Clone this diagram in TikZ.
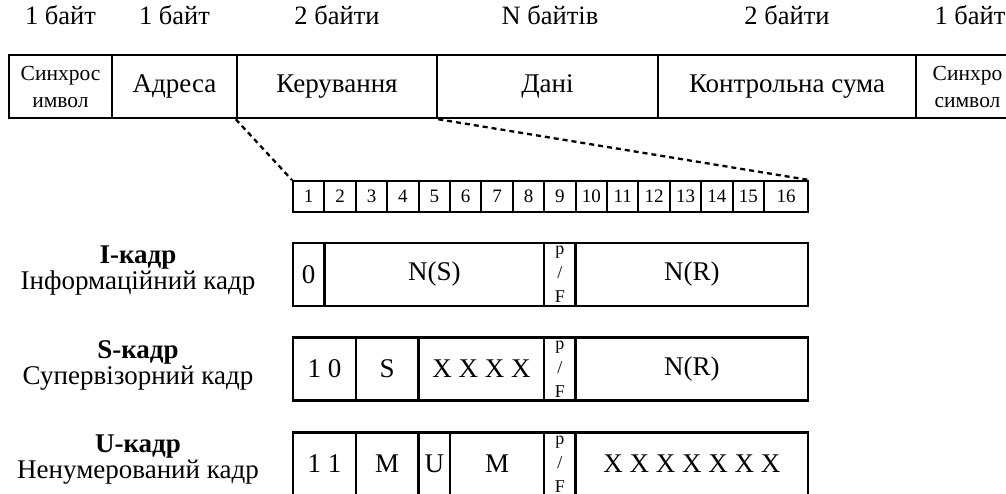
\documentclass[tikz,border=0pt]{standalone}
\usepackage{fontspec}
\setmainfont{Liberation Serif}
\usepackage{tikz}

\tikzset{
  fld/.style={draw, line width=2.5pt, inner sep=0pt, minimum height=63pt, font=\fontsize{27}{28}\selectfont},
  bit/.style={draw, line width=2pt, inner sep=0pt, minimum height=31pt, minimum width=31.4pt, font=\fontsize{19}{19}\selectfont},
  lbl/.style={align=center, font=\fontsize{26.5}{26}\selectfont},
  small/.style={align=center, font=\fontsize{21.5}{27}\selectfont},
  pf/.style={align=center, inner sep=0pt, font=\fontsize{18}{24}\selectfont},
  zoomline/.style={line width=2.3pt, dash pattern=on 5pt off 4pt}
}

\begin{document}
\begin{tikzpicture}[x=1pt,y=-1pt]
\clip (0,0) rectangle (1006,493);

% byte sizes
\node[lbl] (sz1) at (60.5,15) {1 байт};
\node[lbl] (sz2) at (174.5,15) {1 байт};
\node[lbl] (sz3) at (337,15) {2 байти};
\node[lbl] (sz4) at (550,15) {N байтів};
\node[lbl] (sz5) at (787,15) {2 байти};
\node[lbl] (sz6) at (970,15) {1 байт};

% frame
\node[fld, small, minimum width=103] (sync1) at (60.5,86.5) {Синхрос\\имвол};
\node[fld, minimum width=125] (addr) at (174.5,86.5) {Адреса};
\node[fld, minimum width=200] (ctrl) at (337,86.5) {Керування};
\node[fld, minimum width=221] (data) at (547.5,86.5) {Дані};
\node[fld, minimum width=258] (crc) at (787,86.5) {Контрольна сума};
\node[fld, small, minimum width=103] (sync2) at (967.5,86.5) {Синхро\\символ};

% control field bits
\foreach \i in {1,...,15}
  \node[bit] (b\i) at ({293+31.4*(\i-0.5)},196.5) {\i};
\node[bit, minimum width=44] (b16) at (786,196.5) {16};

\draw[zoomline] (ctrl.south west) -- (b1.north west);
\draw[zoomline] (ctrl.south east) -- (b16.north east);

% I-frame
\node[lbl, font=\fontsize{27}{26}\selectfont] (ilbl) at (138,271) {\textbf{I-кадр}\\Інформаційний кадр};
\node[fld, minimum width=31.4] (i0) at (308.7,274.5) {0};
\node[fld, minimum width=219.8] (ins) at (434.3,274.5) {N(S)};
\node[fld, minimum width=31.4] (ipf) at (559.9,274.5) {};
\node[pf] (ipft) at (ipf) {p\\/\\F};
\node[fld, minimum width=232.4] (inr) at (691.8,274.5) {N(R)};

% S-frame
\node[lbl, font=\fontsize{27}{26}\selectfont] (slbl) at (138,365.5) {\textbf{S-кадр}\\Супервізорний кадр};
\node[fld, minimum width=62.8] (s10) at (324.4,369) {1 0};
\node[fld, minimum width=62.8] (ss) at (387.2,369) {S};
\node[fld, minimum width=125.6] (sx) at (481.4,369) {X X X X};
\node[fld, minimum width=31.4] (spf) at (559.9,369) {};
\node[pf] (spft) at (spf) {p\\/\\F};
\node[fld, minimum width=232.4] (snr) at (691.8,369) {N(R)};

% U-frame
\node[lbl, font=\fontsize{27}{26}\selectfont] (ulbl) at (138,460) {\textbf{U-кадр}\\Ненумерований кадр};
\node[fld, minimum width=62.8] (u11) at (324.4,464) {1 1};
\node[fld, minimum width=62.8] (um1) at (387.2,464) {M};
\node[fld, minimum width=31.4] (uu) at (434.3,464) {U};
\node[fld, minimum width=94.2] (um2) at (497.1,464) {M};
\node[fld, minimum width=31.4] (upf) at (559.9,464) {};
\node[pf] (upft) at (upf) {p\\/\\F};
\node[fld, minimum width=232.4] (ux) at (691.8,464) {X X X X X X X};

\end{tikzpicture}
\end{document}
